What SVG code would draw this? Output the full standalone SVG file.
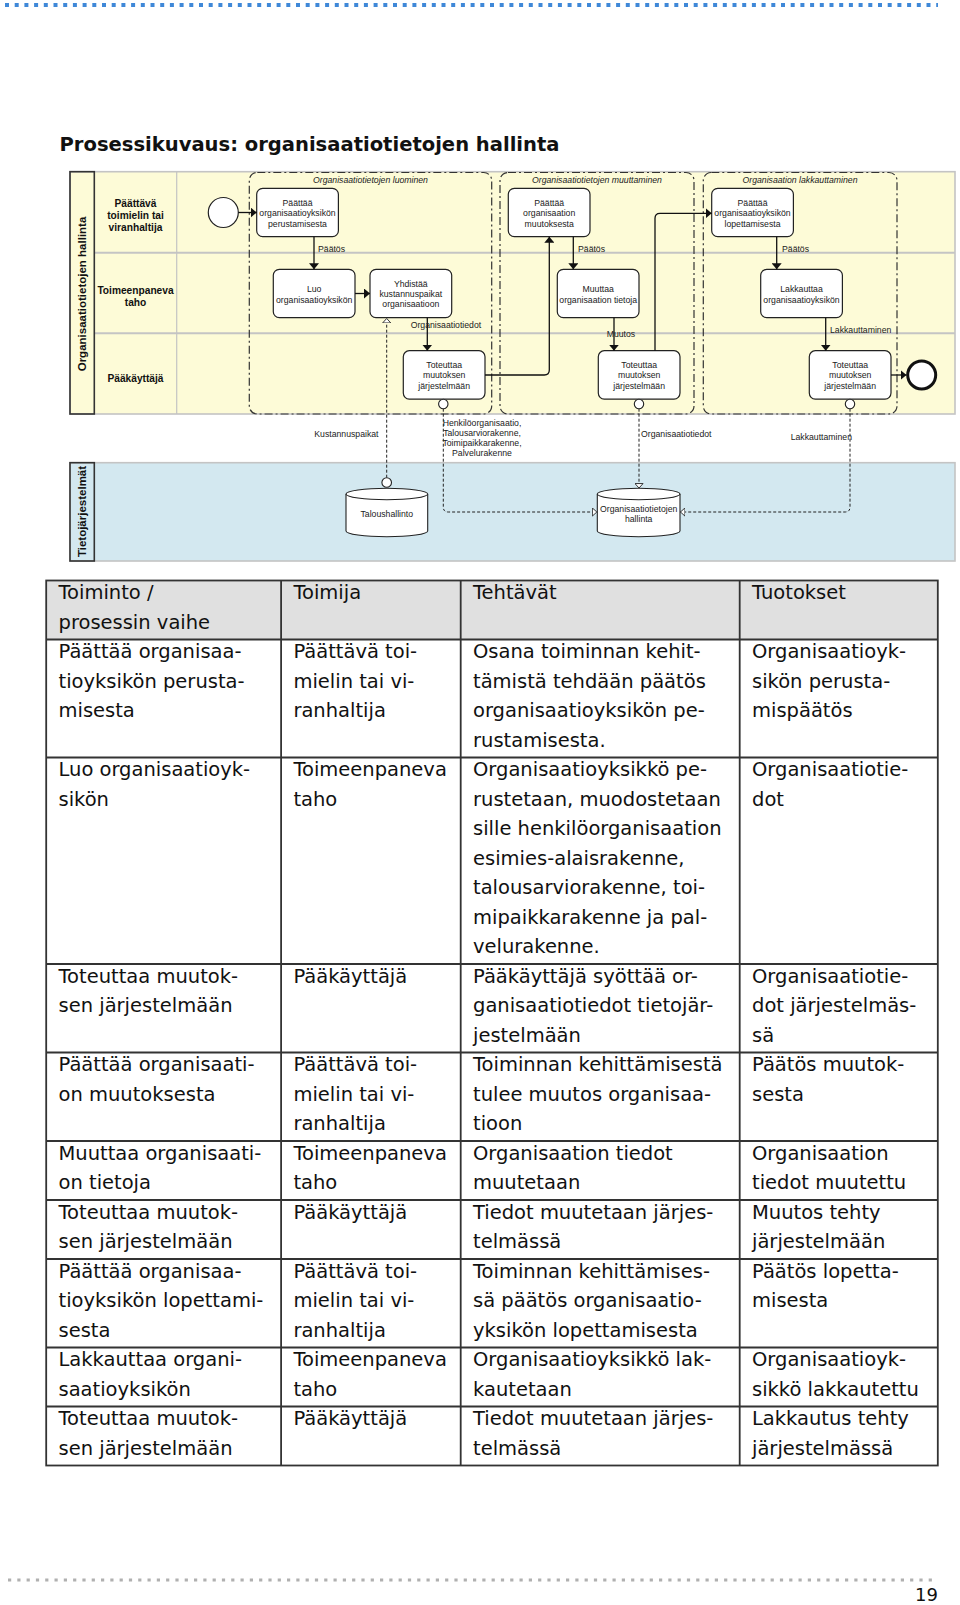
<svg xmlns="http://www.w3.org/2000/svg" width="960" height="1605" viewBox="0 0 960 1605">
<style>
.bg{fill:#ffffff}
.pool1{fill:#fdfbd7;stroke:#c4c4c4;stroke-width:1.6}
.pool2{fill:#d3e8f0;stroke:#c4c4c4;stroke-width:1.6}
.hdr{fill:none;stroke:#333;stroke-width:1.6}
.lane{stroke:#c4c4c4;stroke-width:2;fill:none}
.lanev{stroke:#c4c4c4;stroke-width:1.2;fill:none}
.grp{fill:none;stroke:#333;stroke-width:1.2;stroke-dasharray:8 3 2 3}
.task{fill:#fff;stroke:#222;stroke-width:1.2}
.ds{fill:#fff;stroke:#222;stroke-width:1.1}
.t{font-family:"Liberation Sans",Arial,sans-serif;font-size:8.7px;fill:#222;text-anchor:middle}
.l{font-family:"Liberation Sans",Arial,sans-serif;font-size:8.7px;fill:#222}
.gl{font-family:"Liberation Sans",Arial,sans-serif;font-size:8.7px;font-style:italic;fill:#222;text-anchor:middle}
.ln{font-family:"Liberation Sans",Arial,sans-serif;font-size:10.2px;font-weight:bold;fill:#111;text-anchor:middle}
.pn{font-family:"Liberation Sans",Arial,sans-serif;font-size:11.5px;font-weight:bold;fill:#111;text-anchor:middle}
.flow{fill:none;stroke:#111;stroke-width:1.3;marker-end:url(#ah)}
.assoc{fill:none;stroke:#222;stroke-width:1;stroke-dasharray:3 2;marker-end:url(#oh)}
.dot{fill:#fff;stroke:#222;stroke-width:1.1}
.tbl{fill:none;stroke:#333;stroke-width:1.8}
.tb{font-family:"DejaVu Sans",Verdana,sans-serif;font-size:19.5px;fill:#111}
</style>
<defs>
<marker id="ah" viewBox="0 0 6 10" refX="6" refY="5" markerWidth="6" markerHeight="10" markerUnits="userSpaceOnUse" orient="auto">
<path d="M0,0 L6,5 L0,10 Z" fill="#111"/>
</marker>
<marker id="oh" viewBox="0 0 6 10" refX="6" refY="5" markerWidth="5.5" markerHeight="9" markerUnits="userSpaceOnUse" orient="auto">
<path d="M0.5,0.5 L5.5,5 L0.5,9.5 Z" fill="#fff" stroke="#222" stroke-width="1"/>
</marker>
</defs>
<rect class="bg" x="0" y="0" width="960" height="1605"/>

<line x1="5" y1="5" x2="938" y2="5" stroke="#3f88d8" stroke-width="4" stroke-dasharray="4 5.7"/>
<text x="59.5" y="151" font-family="DejaVu Sans,Verdana,sans-serif" font-size="19.5" font-weight="bold" fill="#111" textLength="500" lengthAdjust="spacingAndGlyphs">Prosessikuvaus: organisaatiotietojen hallinta</text>

<g id="pool-organisaatiotietojen-hallinta">
<rect class="pool1" x="70" y="171.7" width="885" height="242.3"/>
<line class="lane" x1="94.3" y1="252.7" x2="955" y2="252.7"/>
<line class="lane" x1="94.3" y1="333.3" x2="955" y2="333.3"/>
<line class="lanev" x1="176.7" y1="171.7" x2="176.7" y2="414"/>
<rect class="hdr" x="70" y="171.7" width="24.3" height="242.3"/>
<text class="pn" transform="translate(86.2,294) rotate(-90)">Organisaatiotietojen hallinta</text>
<text class="ln" x="135.5" y="207"><tspan x="135.5">Päättävä</tspan><tspan x="135.5" dy="12">toimielin tai</tspan><tspan x="135.5" dy="12">viranhaltija</tspan></text>
<text class="ln" x="135.5" y="293.7"><tspan x="135.5">Toimeenpaneva</tspan><tspan x="135.5" dy="12.5">taho</tspan></text>
<text class="ln" x="135.5" y="382">Pääkäyttäjä</text>
</g>

<g id="pool-tietojarjestelmat">
<rect class="pool2" x="70" y="462.7" width="885" height="98.3"/>
<rect class="hdr" x="70" y="462.7" width="24.3" height="98.3"/>
<text class="pn" transform="translate(86.2,511.5) rotate(-90)">Tietojärjestelmät</text>
</g>

<g id="group-luominen">
<rect class="grp" x="249.3" y="172.5" width="242.4" height="241.5" rx="8"/>
<text class="gl" x="370.5" y="182.5">Organisaatiotietojen luominen</text>
</g>
<g id="group-muuttaminen">
<rect class="grp" x="500" y="172.5" width="194" height="241.5" rx="8"/>
<text class="gl" x="597" y="182.5">Organisaatiotietojen muuttaminen</text>
</g>
<g id="group-lakkauttaminen">
<rect class="grp" x="703.3" y="172.5" width="193.7" height="241.5" rx="8"/>
<text class="gl" x="800" y="182.5">Organisaation lakkauttaminen</text>
</g>

<g id="start-event"><circle cx="223.3" cy="212.5" r="15" fill="#fff" stroke="#222" stroke-width="1.2"/></g>
<g id="end-event"><circle cx="921.7" cy="375" r="14" fill="#fff" stroke="#111" stroke-width="3"/></g>

<g id="task-paattaa-perustamisesta">
<rect class="task" x="256.7" y="188.3" width="81.7" height="48.4" rx="6"/>
<text class="t"><tspan x="297.5" y="206">Päättää</tspan><tspan x="297.5" y="216.3">organisaatioyksikön</tspan><tspan x="297.5" y="226.6">perustamisesta</tspan></text>
</g>
<g id="task-luo">
<rect class="task" x="273.3" y="269.3" width="81.7" height="48.4" rx="6"/>
<text class="t"><tspan x="314.2" y="291.5">Luo</tspan><tspan x="314.2" y="302.5">organisaatioyksikön</tspan></text>
</g>
<g id="task-yhdistaa">
<rect class="task" x="370" y="269.3" width="81.7" height="48.4" rx="6"/>
<text class="t"><tspan x="410.8" y="286.6">Yhdistää</tspan><tspan x="410.8" y="296.9">kustannuspaikat</tspan><tspan x="410.8" y="307.2">organisaatioon</tspan></text>
</g>
<g id="task-toteuttaa-1">
<rect class="task" x="403.3" y="350.7" width="81.7" height="48.4" rx="6"/>
<text class="t"><tspan x="444.2" y="368">Toteuttaa</tspan><tspan x="444.2" y="378.3">muutoksen</tspan><tspan x="444.2" y="388.6">järjestelmään</tspan></text>
</g>
<g id="task-paattaa-muutoksesta">
<rect class="task" x="508.3" y="188.3" width="81.7" height="48.4" rx="6"/>
<text class="t"><tspan x="549.2" y="206">Päättää</tspan><tspan x="549.2" y="216.3">organisaation</tspan><tspan x="549.2" y="226.6">muutoksesta</tspan></text>
</g>
<g id="task-muuttaa">
<rect class="task" x="557.3" y="269.3" width="81.7" height="48.4" rx="6"/>
<text class="t"><tspan x="598.2" y="291.5">Muuttaa</tspan><tspan x="598.2" y="302.5">organisaation tietoja</tspan></text>
</g>
<g id="task-toteuttaa-2">
<rect class="task" x="598.3" y="350.7" width="81.7" height="48.4" rx="6"/>
<text class="t"><tspan x="639.2" y="368">Toteuttaa</tspan><tspan x="639.2" y="378.3">muutoksen</tspan><tspan x="639.2" y="388.6">järjestelmään</tspan></text>
</g>
<g id="task-paattaa-lopettamisesta">
<rect class="task" x="711.7" y="188.3" width="81.7" height="48.4" rx="6"/>
<text class="t"><tspan x="752.5" y="206">Päättää</tspan><tspan x="752.5" y="216.3">organisaatioyksikön</tspan><tspan x="752.5" y="226.6">lopettamisesta</tspan></text>
</g>
<g id="task-lakkauttaa">
<rect class="task" x="760.7" y="269.3" width="81.7" height="48.4" rx="6"/>
<text class="t"><tspan x="801.5" y="291.5">Lakkauttaa</tspan><tspan x="801.5" y="302.5">organisaatioyksikön</tspan></text>
</g>
<g id="task-toteuttaa-3">
<rect class="task" x="809.3" y="350.7" width="81.7" height="48.4" rx="6"/>
<text class="t"><tspan x="850.2" y="368">Toteuttaa</tspan><tspan x="850.2" y="378.3">muutoksen</tspan><tspan x="850.2" y="388.6">järjestelmään</tspan></text>
</g>

<g id="ds-taloushallinto">
<path class="ds" d="M346,494 A40.85,5.7 0 0 1 427.7,494 V531 A40.85,5.7 0 0 1 346,531 Z"/>
<path class="ds" d="M346,494 A40.85,5.7 0 0 0 427.7,494" fill="none"/>
<text class="t" x="386.8" y="516.5">Taloushallinto</text>
</g>
<g id="ds-organisaatiotietojen-hallinta">
<path class="ds" d="M597.3,494 A41.35,5.7 0 0 1 680,494 V531 A41.35,5.7 0 0 1 597.3,531 Z"/>
<path class="ds" d="M597.3,494 A41.35,5.7 0 0 0 680,494" fill="none"/>
<text class="t"><tspan x="638.7" y="511.5">Organisaatiotietojen</tspan><tspan x="638.7" y="522">hallinta</tspan></text>
</g>

<g id="connectors">
<path class="flow" d="M238.3,212.5 H256.7"/>
<path class="flow" d="M314,236.7 V269.3"/>
<path class="flow" d="M355,293.5 H370"/>
<path class="flow" d="M427.3,317.7 V350.7"/>
<path class="flow" d="M485,375 H544.3 Q549.3,375 549.3,370 V236.7"/>
<path class="flow" d="M573.3,236.7 V269.3"/>
<path class="flow" d="M614,317.7 V350.7"/>
<path class="flow" d="M655,350.7 V218.3 Q655,213.3 660,213.3 H711.7"/>
<path class="flow" d="M776.7,236.7 V269.3"/>
<path class="flow" d="M825.7,317.7 V350.7"/>
<path class="flow" d="M891,375 H906.5"/>
<text class="l" x="318" y="251.5">Päätös</text>
<text class="l" x="410.7" y="328.3">Organisaatiotiedot</text>
<text class="l" x="578" y="251.5">Päätös</text>
<text class="l" x="606.7" y="336.5">Muutos</text>
<text class="l" x="782" y="251.5">Päätös</text>
<text class="l" x="830" y="332.5">Lakkauttaminen</text>

<path class="assoc" d="M386.7,477.7 V318"/>
<circle class="dot" cx="386.7" cy="482.5" r="4.8"/>
<path class="assoc" d="M443.3,408.7 V507 Q443.3,512 448.3,512 H597.3"/>
<circle class="dot" cx="443.3" cy="404" r="4.7"/>
<path class="assoc" d="M639,408.7 V488.5"/>
<circle class="dot" cx="639" cy="404" r="4.7"/>
<path class="assoc" d="M850,408.7 V507 Q850,512 845,512 H680"/>
<circle class="dot" cx="850" cy="404" r="4.7"/>
<text class="l" x="378.5" y="436.5" text-anchor="end">Kustannuspaikat</text>
<text class="t"><tspan x="482" y="426.4">Henkilöorganisaatio,</tspan><tspan x="482" y="436.4">Talousarviorakenne,</tspan><tspan x="482" y="446.4">Toimipaikkarakenne,</tspan><tspan x="482" y="456.4">Palvelurakenne</tspan></text>
<text class="l" x="641" y="436.5">Organisaatiotiedot</text>
<text class="l" x="852" y="440" text-anchor="end">Lakkauttaminen</text>
</g>

<g id="table">
<rect x="46.2" y="580.5" width="891.6" height="59" fill="#e0e0e0"/>
<rect class="tbl" x="46.2" y="580.5" width="891.6" height="885"/>
<path class="tbl" d="M281.1,580.5 V1465.5 M460.7,580.5 V1465.5 M739.7,580.5 V1465.5 M46.2,639.5 H937.8 M46.2,757.5 H937.8 M46.2,964 H937.8 M46.2,1052.5 H937.8 M46.2,1141 H937.8 M46.2,1200 H937.8 M46.2,1259 H937.8 M46.2,1347.5 H937.8 M46.2,1406.5 H937.8"/>
<g transform="translate(0,-2.5)">
<g id="row-header">
<text class="tb"><tspan x="58.5" y="601.5">Toiminto /</tspan><tspan x="58.5" dy="29.5">prosessin vaihe</tspan></text>
<text class="tb" x="293.4" y="601.5">Toimija</text>
<text class="tb" x="473" y="601.5">Tehtävät</text>
<text class="tb" x="752" y="601.5">Tuotokset</text>
</g>
<g id="row-1">
<text class="tb"><tspan x="58.5" y="660.5">Päättää organisaa-</tspan><tspan x="58.5" dy="29.5">tioyksikön perusta-</tspan><tspan x="58.5" dy="29.5">misesta</tspan></text>
<text class="tb"><tspan x="293.4" y="660.5">Päättävä toi-</tspan><tspan x="293.4" dy="29.5">mielin tai vi-</tspan><tspan x="293.4" dy="29.5">ranhaltija</tspan></text>
<text class="tb"><tspan x="473" y="660.5">Osana toiminnan kehit-</tspan><tspan x="473" dy="29.5">tämistä tehdään päätös</tspan><tspan x="473" dy="29.5">organisaatioyksikön pe-</tspan><tspan x="473" dy="29.5">rustamisesta.</tspan></text>
<text class="tb"><tspan x="752" y="660.5">Organisaatioyk-</tspan><tspan x="752" dy="29.5">sikön perusta-</tspan><tspan x="752" dy="29.5">mispäätös</tspan></text>
</g>
<g id="row-2">
<text class="tb"><tspan x="58.5" y="778.5">Luo organisaatioyk-</tspan><tspan x="58.5" dy="29.5">sikön</tspan></text>
<text class="tb"><tspan x="293.4" y="778.5">Toimeenpaneva</tspan><tspan x="293.4" dy="29.5">taho</tspan></text>
<text class="tb"><tspan x="473" y="778.5">Organisaatioyksikkö pe-</tspan><tspan x="473" dy="29.5">rustetaan, muodostetaan</tspan><tspan x="473" dy="29.5">sille henkilöorganisaation</tspan><tspan x="473" dy="29.5">esimies-alaisrakenne,</tspan><tspan x="473" dy="29.5">talousarviorakenne, toi-</tspan><tspan x="473" dy="29.5">mipaikkarakenne ja pal-</tspan><tspan x="473" dy="29.5">velurakenne.</tspan></text>
<text class="tb"><tspan x="752" y="778.5">Organisaatiotie-</tspan><tspan x="752" dy="29.5">dot</tspan></text>
</g>
<g id="row-3">
<text class="tb"><tspan x="58.5" y="985">Toteuttaa muutok-</tspan><tspan x="58.5" dy="29.5">sen järjestelmään</tspan></text>
<text class="tb" x="293.4" y="985">Pääkäyttäjä</text>
<text class="tb"><tspan x="473" y="985">Pääkäyttäjä syöttää or-</tspan><tspan x="473" dy="29.5">ganisaatiotiedot tietojär-</tspan><tspan x="473" dy="29.5">jestelmään</tspan></text>
<text class="tb"><tspan x="752" y="985">Organisaatiotie-</tspan><tspan x="752" dy="29.5">dot järjestelmäs-</tspan><tspan x="752" dy="29.5">sä</tspan></text>
</g>
<g id="row-4">
<text class="tb"><tspan x="58.5" y="1073.5">Päättää organisaati-</tspan><tspan x="58.5" dy="29.5">on muutoksesta</tspan></text>
<text class="tb"><tspan x="293.4" y="1073.5">Päättävä toi-</tspan><tspan x="293.4" dy="29.5">mielin tai vi-</tspan><tspan x="293.4" dy="29.5">ranhaltija</tspan></text>
<text class="tb"><tspan x="473" y="1073.5">Toiminnan kehittämisestä</tspan><tspan x="473" dy="29.5">tulee muutos organisaa-</tspan><tspan x="473" dy="29.5">tioon</tspan></text>
<text class="tb"><tspan x="752" y="1073.5">Päätös muutok-</tspan><tspan x="752" dy="29.5">sesta</tspan></text>
</g>
<g id="row-5">
<text class="tb"><tspan x="58.5" y="1162">Muuttaa organisaati-</tspan><tspan x="58.5" dy="29.5">on tietoja</tspan></text>
<text class="tb"><tspan x="293.4" y="1162">Toimeenpaneva</tspan><tspan x="293.4" dy="29.5">taho</tspan></text>
<text class="tb"><tspan x="473" y="1162">Organisaation tiedot</tspan><tspan x="473" dy="29.5">muutetaan</tspan></text>
<text class="tb"><tspan x="752" y="1162">Organisaation</tspan><tspan x="752" dy="29.5">tiedot muutettu</tspan></text>
</g>
<g id="row-6">
<text class="tb"><tspan x="58.5" y="1221">Toteuttaa muutok-</tspan><tspan x="58.5" dy="29.5">sen järjestelmään</tspan></text>
<text class="tb" x="293.4" y="1221">Pääkäyttäjä</text>
<text class="tb"><tspan x="473" y="1221">Tiedot muutetaan järjes-</tspan><tspan x="473" dy="29.5">telmässä</tspan></text>
<text class="tb"><tspan x="752" y="1221">Muutos tehty</tspan><tspan x="752" dy="29.5">järjestelmään</tspan></text>
</g>
<g id="row-7">
<text class="tb"><tspan x="58.5" y="1280">Päättää organisaa-</tspan><tspan x="58.5" dy="29.5">tioyksikön lopettami-</tspan><tspan x="58.5" dy="29.5">sesta</tspan></text>
<text class="tb"><tspan x="293.4" y="1280">Päättävä toi-</tspan><tspan x="293.4" dy="29.5">mielin tai vi-</tspan><tspan x="293.4" dy="29.5">ranhaltija</tspan></text>
<text class="tb"><tspan x="473" y="1280">Toiminnan kehittämises-</tspan><tspan x="473" dy="29.5">sä päätös organisaatio-</tspan><tspan x="473" dy="29.5">yksikön lopettamisesta</tspan></text>
<text class="tb"><tspan x="752" y="1280">Päätös lopetta-</tspan><tspan x="752" dy="29.5">misesta</tspan></text>
</g>
<g id="row-8">
<text class="tb"><tspan x="58.5" y="1368.5">Lakkauttaa organi-</tspan><tspan x="58.5" dy="29.5">saatioyksikön</tspan></text>
<text class="tb"><tspan x="293.4" y="1368.5">Toimeenpaneva</tspan><tspan x="293.4" dy="29.5">taho</tspan></text>
<text class="tb"><tspan x="473" y="1368.5">Organisaatioyksikkö lak-</tspan><tspan x="473" dy="29.5">kautetaan</tspan></text>
<text class="tb"><tspan x="752" y="1368.5">Organisaatioyk-</tspan><tspan x="752" dy="29.5">sikkö lakkautettu</tspan></text>
</g>
<g id="row-9">
<text class="tb"><tspan x="58.5" y="1427.5">Toteuttaa muutok-</tspan><tspan x="58.5" dy="29.5">sen järjestelmään</tspan></text>
<text class="tb" x="293.4" y="1427.5">Pääkäyttäjä</text>
<text class="tb"><tspan x="473" y="1427.5">Tiedot muutetaan järjes-</tspan><tspan x="473" dy="29.5">telmässä</tspan></text>
<text class="tb"><tspan x="752" y="1427.5">Lakkautus tehty</tspan><tspan x="752" dy="29.5">järjestelmässä</tspan></text>
</g>
</g>
</g>

<line x1="8" y1="1580" x2="938" y2="1580" stroke="#b0b0b0" stroke-width="3.2" stroke-dasharray="3.2 6.1"/>
<text x="938" y="1601" text-anchor="end" font-family="DejaVu Sans,Verdana,sans-serif" font-size="18" fill="#111">19</text>
</svg>
